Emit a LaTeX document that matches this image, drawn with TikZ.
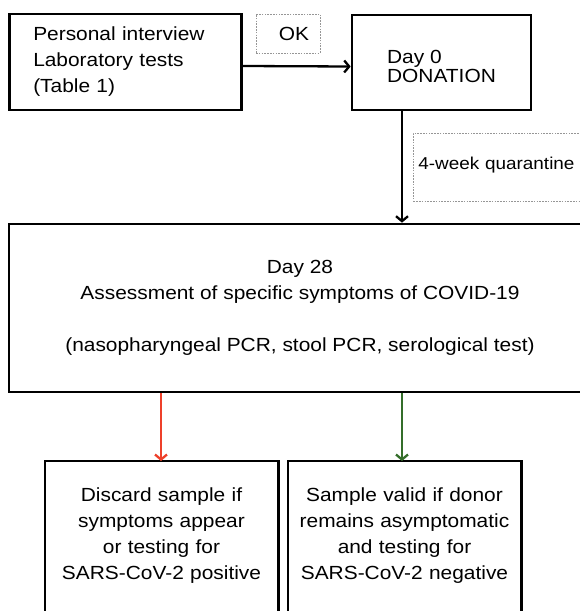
\documentclass[tikz,border=0pt]{standalone}
\usepackage{fontspec}
\setmainfont[FakeStretch=1.1]{Liberation Sans}
\usetikzlibrary{arrows.meta}
\definecolor{redarr}{RGB}{238,64,42}
\definecolor{greenarr}{RGB}{52,110,42}
\definecolor{dashgray}{RGB}{150,150,150}
\tikzset{
  box/.style={draw=black, line width=2.6pt, fill=white},
  boxline/.style={draw=black, line width=2.6pt},
  dbox/.style={draw=dashgray, line width=0.8pt, dash pattern=on 1.6pt off 1.2pt},
  arr/.style={line width=2.3pt, -{Straight Barb[length=5pt,width=12pt]}},
  txt/.style={font=\fontsize{19pt}{26pt}\selectfont},
}
\begin{document}
\begin{tikzpicture}[x=1pt,y=-1pt]
\useasboundingbox (0,0) rectangle (580,611);
\clip (0,0) rectangle (580,611);
\fill[white] (0,0) rectangle (580,611);

\node[box, txt, align=left, text width=185pt, inner xsep=23.5pt, minimum height=96pt] (tl) at (125.75,62) {Personal interview\\Laboratory tests\\(Table 1)};

\node[dbox, txt, minimum width=64pt, minimum height=39pt] (ok) at (288,33.5) {\hspace*{12pt}OK};

\node[box, align=left, font=\fontsize{19pt}{19pt}\selectfont, minimum width=179pt, minimum height=95pt] (don) at (441.5,62.5) {\rule{0pt}{22pt}Day 0\\DONATION};

\node[dbox, font=\fontsize{17.2pt}{22pt}\selectfont, anchor=north west, minimum height=68pt, text width=180pt, inner xsep=5pt, align=left] (q) at (413,133) {4-week quarantine\rule[-8pt]{0pt}{8pt}};

\node[box, txt, align=center, minimum width=582pt, minimum height=168pt] (big) at (300,308) {Day 28\\Assessment of specific symptoms of COVID-19\\[26pt](nasopharyngeal PCR, stool PCR, serological test)};

\node[txt, align=center, text width=225pt, inner xsep=4pt, inner ysep=27pt, anchor=north] (L) at (161.5,461) {Discard sample if\\symptoms appear\\or testing for\\SARS-CoV-2 positive};
\draw[boxline] ([yshift=-100pt]L.south west) rectangle (L.north east);

\node[txt, align=center, text width=225pt, inner xsep=4pt, inner ysep=27pt, anchor=north] (R) at (404.5,461) {Sample valid if donor\\remains asymptomatic\\and testing for\\SARS-CoV-2 negative};
\draw[boxline] ([yshift=-100pt]R.south west) rectangle (R.north east);

\coordinate (vx) at (402,0);
\coordinate (rx) at (161,0);
\draw[arr] ([yshift=-4pt]tl.east) -- ([yshift=-4pt]don.west);
\draw[arr] (don.south -| vx) -- (big.north -| vx);
\draw[arr, redarr] (big.south -| rx) -- (L.north -| rx);
\draw[arr, greenarr] (big.south -| vx) -- (R.north -| vx);
\end{tikzpicture}
\end{document}
